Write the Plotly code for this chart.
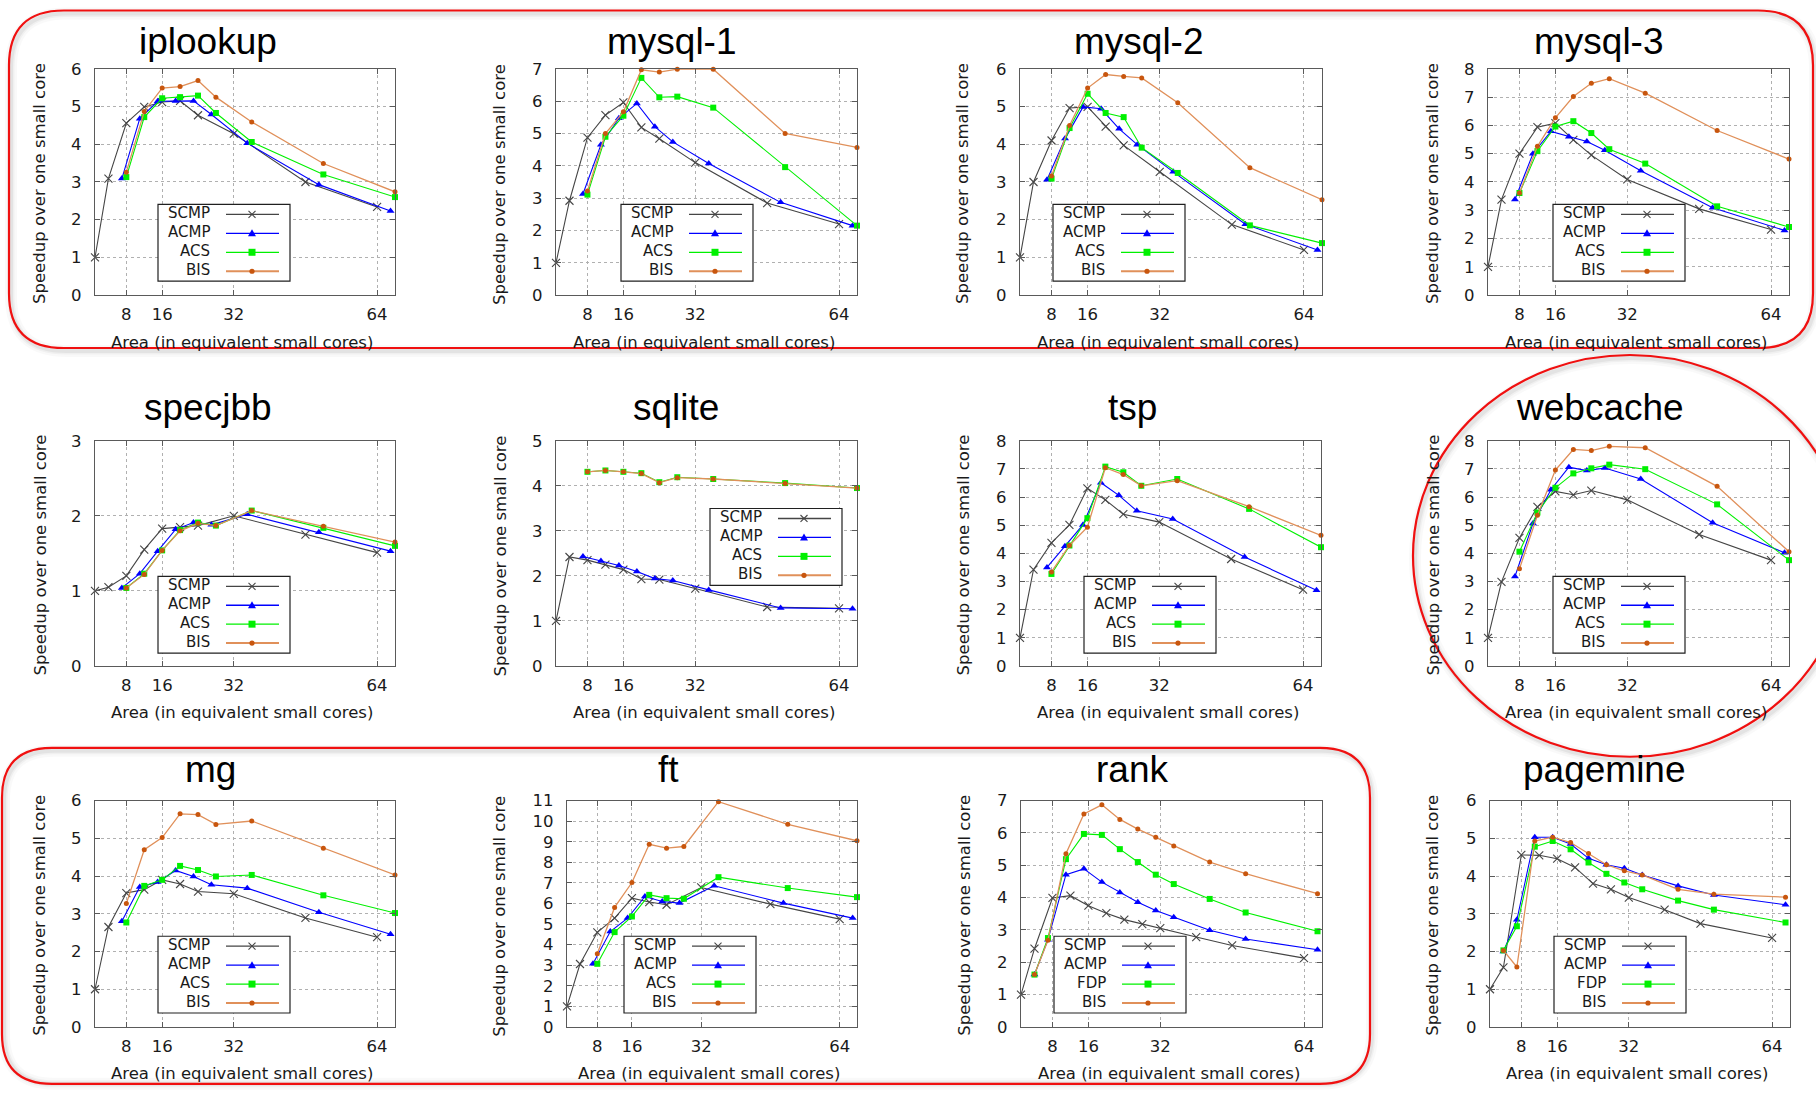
import plotly.graph_objects as go

W, H = 1816, 1095

# ---------------- data ----------------
X_SCMP = [1, 4, 8, 12, 16, 20, 24, 32, 48, 64]
X_ACMP = [7, 11, 15, 19, 23, 27, 35, 51, 67]
X_ACS = [8, 12, 16, 20, 24, 28, 36, 52, 68]
X_SCMP_B = [1, 4, 8, 12, 16, 20, 24, 28, 32, 40, 48, 64]
X_ASYM_B = [4, 7, 11, 15, 19, 23, 27, 31, 35, 43, 51, 67]
X_TICKS = [8, 16, 32, 64]

iplookup_scmp = [1.0, 3.09, 4.56, 4.99, 5.12, 5.15, 4.77, 4.28, 3.0, 2.34]
iplookup_acmp = [3.09, 4.68, 5.14, 5.15, 5.15, 4.79, 4.03, 2.93, 2.23]
iplookup_acs = [3.13, 4.72, 5.22, 5.25, 5.29, 4.83, 4.06, 3.2, 2.6]
iplookup_bis = [3.26, 4.87, 5.49, 5.53, 5.69, 5.25, 4.59, 3.49, 2.74]

mysql1_scmp = [1.0, 2.92, 4.87, 5.57, 5.96, 5.19, 4.84, 4.1, 2.85, 2.2]
mysql1_acmp = [3.13, 4.65, 5.47, 5.93, 5.21, 4.74, 4.07, 2.87, 2.15]
mysql1_acs = [3.11, 4.9, 5.55, 6.72, 6.12, 6.14, 5.8, 3.96, 2.15]
mysql1_bis = [3.22, 5.0, 5.67, 6.97, 6.9, 6.99, 6.99, 5.0, 4.57]

mysql2_scmp = [1.0, 3.0, 4.1, 4.96, 4.99, 4.47, 3.97, 3.27, 1.87, 1.2]
mysql2_acmp = [3.06, 4.15, 4.99, 4.94, 4.41, 3.99, 3.27, 1.88, 1.2]
mysql2_acs = [3.09, 4.43, 5.34, 4.83, 4.72, 3.91, 3.24, 1.85, 1.38]
mysql2_bis = [3.16, 4.5, 5.49, 5.85, 5.8, 5.76, 5.1, 3.38, 2.53]

mysql3_scmp = [1.0, 3.38, 5.0, 5.94, 6.08, 5.49, 4.95, 4.09, 3.05, 2.32]
mysql3_acmp = [3.38, 5.0, 5.79, 5.6, 5.43, 5.12, 4.4, 3.09, 2.29]
mysql3_acs = [3.61, 5.09, 5.96, 6.15, 5.73, 5.16, 4.65, 3.14, 2.41]
mysql3_bis = [3.61, 5.26, 6.27, 7.02, 7.49, 7.65, 7.14, 5.82, 4.81]

specjbb_scmp = [1.0, 1.05, 1.2, 1.55, 1.83, 1.85, 1.87, 2.0, 1.75, 1.51]
specjbb_acmp = [1.04, 1.23, 1.53, 1.82, 1.91, 1.88, 2.02, 1.78, 1.53]
specjbb_acs = [1.04, 1.23, 1.54, 1.81, 1.91, 1.87, 2.07, 1.84, 1.6]
specjbb_bis = [1.04, 1.22, 1.54, 1.8, 1.9, 1.87, 2.07, 1.86, 1.65]

sqlite_scmp = [1.0, 2.42, 2.35, 2.25, 2.14, 1.93, 1.92, 1.72, 1.31, 1.28]
sqlite_acmp = [2.43, 2.33, 2.23, 2.1, 1.94, 1.9, 1.69, 1.29, 1.27]
sqlite_acs = [4.31, 4.34, 4.31, 4.28, 4.08, 4.19, 4.15, 4.06, 3.95]
sqlite_bis = [4.31, 4.34, 4.31, 4.27, 4.07, 4.18, 4.15, 4.05, 3.95]

tsp_scmp = [1.0, 3.42, 4.37, 5.01, 6.31, 5.9, 5.39, 5.11, 3.8, 2.71]
tsp_acmp = [3.5, 4.25, 5.01, 6.51, 6.06, 5.51, 5.22, 3.87, 2.69]
tsp_acs = [3.27, 4.28, 5.25, 7.08, 6.88, 6.4, 6.64, 5.58, 4.22]
tsp_bis = [3.34, 4.28, 4.93, 7.04, 6.8, 6.4, 6.58, 5.66, 4.64]

webcache_scmp = [1.0, 2.99, 4.55, 5.65, 6.2, 6.08, 6.23, 5.9, 4.67, 3.76]
webcache_acmp = [3.18, 5.06, 6.26, 7.06, 6.94, 7.03, 6.64, 5.09, 4.02]
webcache_acs = [4.06, 5.45, 6.33, 6.84, 7.02, 7.15, 6.99, 5.74, 3.76]
webcache_bis = [3.45, 5.35, 6.96, 7.69, 7.65, 7.8, 7.75, 6.38, 4.06]

mg_scmp = [1.0, 2.65, 3.55, 3.64, 3.9, 3.79, 3.59, 3.53, 2.89, 2.38]
mg_acmp = [2.8, 3.71, 3.84, 4.15, 3.99, 3.77, 3.68, 3.04, 2.46]
mg_acs = [2.77, 3.74, 3.9, 4.27, 4.16, 3.99, 4.03, 3.49, 3.02]
mg_bis = [3.27, 4.7, 5.02, 5.65, 5.63, 5.37, 5.46, 4.74, 4.03]

ft_scmp = [1.0, 3.06, 4.6, 5.29, 6.26, 6.07, 5.94, 6.78, 5.97, 5.24]
ft_acmp = [3.07, 4.64, 5.29, 6.34, 6.1, 6.02, 6.86, 6.02, 5.29]
ft_acs = [3.07, 4.61, 5.37, 6.42, 6.26, 6.23, 7.28, 6.75, 6.31]
ft_bis = [3.56, 5.81, 7.02, 8.88, 8.69, 8.77, 10.95, 9.85, 9.05]

rank_scmp = [1.0, 2.42, 3.99, 4.06, 3.75, 3.52, 3.32, 3.18, 3.06, 2.78, 2.52, 2.13]
rank_acmp = [1.62, 2.7, 4.71, 4.89, 4.48, 4.16, 3.86, 3.6, 3.39, 2.99, 2.72, 2.39]
rank_fdp = [1.62, 2.75, 5.19, 5.97, 5.94, 5.5, 5.1, 4.71, 4.42, 3.96, 3.54, 2.96]
rank_bis = [1.62, 2.68, 5.36, 6.59, 6.87, 6.42, 6.12, 5.87, 5.6, 5.1, 4.74, 4.12]

pagemine_scmp = [1.0, 1.58, 4.56, 4.55, 4.46, 4.23, 3.8, 3.65, 3.43, 3.11, 2.74, 2.36]
pagemine_acmp = [2.0, 2.84, 5.03, 5.03, 4.85, 4.47, 4.3, 4.21, 4.03, 3.74, 3.5, 3.24]
pagemine_fdp = [2.03, 2.67, 4.78, 4.93, 4.71, 4.36, 4.06, 3.83, 3.65, 3.35, 3.11, 2.77]
pagemine_bis = [2.03, 1.59, 4.93, 5.03, 4.89, 4.6, 4.3, 4.14, 4.03, 3.65, 3.52, 3.44]

# ---------------- panel layout ----------------
XS_A = (X_SCMP, X_ACMP, X_ACS, X_ACS)
XS_B = (X_SCMP_B, X_ASYM_B, X_ASYM_B, X_ASYM_B)

panels = [
    dict(t="iplookup", box=(95, 395, 68, 295), ymax=6, tx=208, ty=41, yt=40, leg=(158, 204), lab3="ACS",
         ys=(iplookup_scmp, iplookup_acmp, iplookup_acs, iplookup_bis), xs=XS_A),
    dict(t="mysql-1", box=(556, 857, 68, 295), ymax=7, tx=672, ty=41, yt=500, leg=(621, 204), lab3="ACS",
         ys=(mysql1_scmp, mysql1_acmp, mysql1_acs, mysql1_bis), xs=XS_A),
    dict(t="mysql-2", box=(1020, 1322, 68, 295), ymax=6, tx=1139, ty=41, yt=963, leg=(1053, 204), lab3="ACS",
         ys=(mysql2_scmp, mysql2_acmp, mysql2_acs, mysql2_bis), xs=XS_A),
    dict(t="mysql-3", box=(1488, 1789, 68, 295), ymax=8, tx=1599, ty=41, yt=1433, leg=(1553, 204), lab3="ACS",
         ys=(mysql3_scmp, mysql3_acmp, mysql3_acs, mysql3_bis), xs=XS_A),
    dict(t="specjbb", box=(95, 395, 441, 667), ymax=3, tx=208, ty=408, yt=40, leg=(158, 577), lab3="ACS",
         ys=(specjbb_scmp, specjbb_acmp, specjbb_acs, specjbb_bis), xs=XS_A),
    dict(t="sqlite", box=(556, 857, 441, 667), ymax=5, tx=676, ty=408, yt=500, leg=(710, 509), lab3="ACS",
         ys=(sqlite_scmp, sqlite_acmp, sqlite_acs, sqlite_bis), xs=XS_A),
    dict(t="tsp", box=(1020, 1321, 441, 667), ymax=8, tx=1132, ty=408, yt=963, leg=(1084, 577), lab3="ACS",
         ys=(tsp_scmp, tsp_acmp, tsp_acs, tsp_bis), xs=XS_A),
    dict(t="webcache", box=(1488, 1789, 441, 667), ymax=8, tx=1600, ty=408, yt=1433, leg=(1553, 577), lab3="ACS",
         ys=(webcache_scmp, webcache_acmp, webcache_acs, webcache_bis), xs=XS_A),
    dict(t="mg", box=(95, 395, 802, 1029), ymax=6, tx=210, ty=771, yt=40, leg=(158, 938), lab3="ACS",
         ys=(mg_scmp, mg_acmp, mg_acs, mg_bis), xs=XS_A),
    dict(t="ft", box=(567, 857, 802, 1029), ymax=11, tx=668, ty=771, yt=500, leg=(624, 938), lab3="ACS",
         ys=(ft_scmp, ft_acmp, ft_acs, ft_bis), xs=XS_A),
    dict(t="rank", box=(1021, 1322, 802, 1029), ymax=7, tx=1132, ty=771, yt=965, leg=(1054, 938), lab3="FDP",
         ys=(rank_scmp, rank_acmp, rank_fdp, rank_bis), xs=XS_B),
    dict(t="pagemine", box=(1490, 1790, 802, 1029), ymax=6, tx=1604, ty=771, yt=1433, leg=(1554, 938), lab3="FDP",
         ys=(pagemine_scmp, pagemine_acmp, pagemine_fdp, pagemine_bis), xs=XS_B),
]

# ---------------- styles ----------------
TICK_FONT = dict(family="DejaVu Sans", size=16.5, color="#1a1a1a")
LABEL_FONT = dict(family="DejaVu Sans", size=16.5, color="#1a1a1a")
FRAME = "#5a5a5a"
GRID = "#b0b0b0"
C_SCMP = "#454545"
C_ACMP = "#0000ff"
C_ACS = "#00f000"
C_BIS_LINE = "#e0905a"
C_BIS_MARK = "#c8560e"

STYLES = [
    dict(line=dict(color=C_SCMP, width=1.1),
         marker=dict(symbol="x-thin", size=8, line=dict(color=C_SCMP, width=1.1), color=C_SCMP)),
    dict(line=dict(color=C_ACMP, width=1.1),
         marker=dict(symbol="triangle-up", size=7, color=C_ACMP, line=dict(width=0))),
    dict(line=dict(color=C_ACS, width=1.1),
         marker=dict(symbol="square", size=6, color=C_ACS, line=dict(width=0))),
    dict(line=dict(color=C_BIS_LINE, width=1.3),
         marker=dict(symbol="circle", size=5, color=C_BIS_MARK, line=dict(width=0))),
]

# vertical placement calibration of the rendered page (target pixel -> figure pixel)
VS, VOFF = 0.9856, 8.1


def px(x):
    return x / W


def py(y):
    return 1 - (y / VS - VOFF) / H


fig = go.Figure()
shapes = []
annotations = []

for i, p in enumerate(panels):
    k = "" if i == 0 else str(i + 1)
    x0, x1, y0, y1 = p["box"]
    labels = ["SCMP", "ACMP", p["lab3"], "BIS"]
    for j in range(4):
        fig.add_trace(go.Scatter(
            x=p["xs"][j], y=p["ys"][j], mode="lines+markers", name=labels[j],
            line=STYLES[j]["line"], marker=STYLES[j]["marker"],
            xaxis="x" + k, yaxis="y" + k, showlegend=False, cliponaxis=False))

    common = dict(showline=True, linecolor=FRAME, linewidth=1.3, mirror="ticks",
                  ticks="inside", ticklen=5, tickwidth=1, tickcolor=FRAME,
                  showgrid=True, gridcolor=GRID, griddash="dot", gridwidth=1,
                  zeroline=False, tickfont=TICK_FONT, fixedrange=True)
    fig.layout["xaxis" + k] = dict(common, domain=[px(x0), px(x1)], range=[1, 68],
                                    tickmode="array", tickvals=X_TICKS, anchor="y" + k,
                                    ticklabelstandoff=4)
    fig.layout["yaxis" + k] = dict(common, domain=[py(y1), py(y0)], range=[0, p["ymax"]],
                                    tickmode="linear", tick0=0, dtick=1, anchor="x" + k,
                                    ticklabelstandoff=9)

    # title
    annotations.append(dict(text=p["t"], x=px(p["tx"]), y=py(p["ty"]), xref="paper", yref="paper",
                            xanchor="center", yanchor="middle", showarrow=False,
                            font=dict(family="Liberation Sans", size=37, color="black")))
    # axis titles
    annotations.append(dict(text="Speedup over one small core", x=px(p["yt"]), y=py((y0 + y1) / 2 + 2),
                            xref="paper", yref="paper", xanchor="center", yanchor="middle",
                            textangle=-90, showarrow=False, font=LABEL_FONT))
    annotations.append(dict(text="Area (in equivalent small cores)", x=px((x0 + x1) / 2 - 3),
                            y=py(y1 + 47), xref="paper", yref="paper", xanchor="center",
                            yanchor="middle", showarrow=False, font=LABEL_FONT))

    # legend box (gnuplot style: text, then sample)
    lx, ly = p["leg"]
    shapes.append(dict(type="rect", xref="paper", yref="paper", x0=px(lx), x1=px(lx + 132),
                       y0=py(ly + 77), y1=py(ly), line=dict(color="#202020", width=1.2),
                       fillcolor="white", layer="above"))
    rows = [ly + 9, ly + 28, ly + 47, ly + 66]
    lcolors = [C_SCMP, C_ACMP, C_ACS, C_BIS_LINE]
    for j in range(4):
        ry = rows[j]
        annotations.append(dict(text=labels[j], x=px(lx + 54), y=py(ry), xref="paper", yref="paper",
                                xanchor="right", yanchor="middle", showarrow=False,
                                font=dict(family="DejaVu Sans", size=15, color="#1a1a1a")))
        shapes.append(dict(type="line", xref="paper", yref="paper", x0=px(lx + 68), x1=px(lx + 121),
                           y0=py(ry + 1), y1=py(ry + 1), layer="above",
                           line=dict(color=lcolors[j], width=1.3 if j < 3 else 2)))
        mx, my = lx + 94, ry + 1
        if j == 0:
            for s in (-1, 1):
                shapes.append(dict(type="line", xref="paper", yref="paper", x0=px(mx - 3.5),
                                   x1=px(mx + 3.5), y0=py(my - 3.5 * s), y1=py(my + 3.5 * s),
                                   layer="above", line=dict(color=C_SCMP, width=1.1)))
        elif j == 1:
            path = "M %f %f L %f %f L %f %f Z" % (px(mx - 4), py(my + 3), px(mx + 4), py(my + 3),
                                                 px(mx), py(my - 4))
            shapes.append(dict(type="path", xref="paper", yref="paper", path=path, layer="above",
                               fillcolor=C_ACMP, line=dict(width=0)))
        elif j == 2:
            shapes.append(dict(type="rect", xref="paper", yref="paper", x0=px(mx - 3.5),
                               x1=px(mx + 3.5), y0=py(my + 3.5), y1=py(my - 3.5), layer="above",
                               fillcolor=C_ACS, line=dict(width=0)))
        else:
            shapes.append(dict(type="circle", xref="paper", yref="paper", x0=px(mx - 2.6),
                               x1=px(mx + 2.6), y0=py(my + 2.6), y1=py(my - 2.6), layer="above",
                               fillcolor=C_BIS_MARK, line=dict(width=0)))


def rounded(xa, ya, xb, yb, r):
    pts = [
        ("M", xa + r, ya), ("L", xb - r, ya), ("Q", xb, ya, xb, ya + r),
        ("L", xb, yb - r), ("Q", xb, yb, xb - r, yb), ("L", xa + r, yb),
        ("Q", xa, yb, xa, yb - r), ("L", xa, ya + r), ("Q", xa, ya, xa + r, ya),
    ]
    out = []
    for seg in pts:
        cmd = seg[0]
        coords = seg[1:]
        s = cmd
        for m in range(0, len(coords), 2):
            s += " %f,%f" % (px(coords[m]), py(coords[m + 1]))
        out.append(s)
    return " ".join(out) + " Z"


# soft shadows + red highlight frames
for (xa, ya, xb, yb, r) in [(9, 9.5, 1813, 348, 55), (2, 749, 1370, 1086, 50)]:
    for wdt, a in [(12, 0.025), (7, 0.035), (4, 0.05)]:
        shapes.append(dict(type="path", xref="paper", yref="paper", path=rounded(xa + 2, ya + 3, xb + 2, min(yb + 3, 1086), r),
                           line=dict(color="rgba(0,0,0,%f)" % a, width=wdt), layer="below"))
    shapes.append(dict(type="path", xref="paper", yref="paper", path=rounded(xa, ya, xb, yb, r),
                       line=dict(color="#f01010", width=2.2), layer="above"))

for wdt, a in [(12, 0.025), (7, 0.035), (4, 0.05)]:
    shapes.append(dict(type="circle", xref="paper", yref="paper", x0=px(1415), x1=px(1849),
                       y0=py(761), y1=py(358), line=dict(color="rgba(0,0,0,%f)" % a, width=wdt),
                       layer="below"))
shapes.append(dict(type="circle", xref="paper", yref="paper", x0=px(1413), x1=px(1847),
                   y0=py(758), y1=py(355), line=dict(color="#f01010", width=2.2), layer="above"))

fig.update_layout(width=W, height=H, margin=dict(l=0, r=0, t=0, b=0),
                  paper_bgcolor="white", plot_bgcolor="white",
                  shapes=shapes, annotations=annotations, showlegend=False)

fig.write_html("out.html", config={"responsive": False, "displayModeBar": False},
               post_script="document.body.style.margin='0px';document.body.style.overflow='hidden';")
